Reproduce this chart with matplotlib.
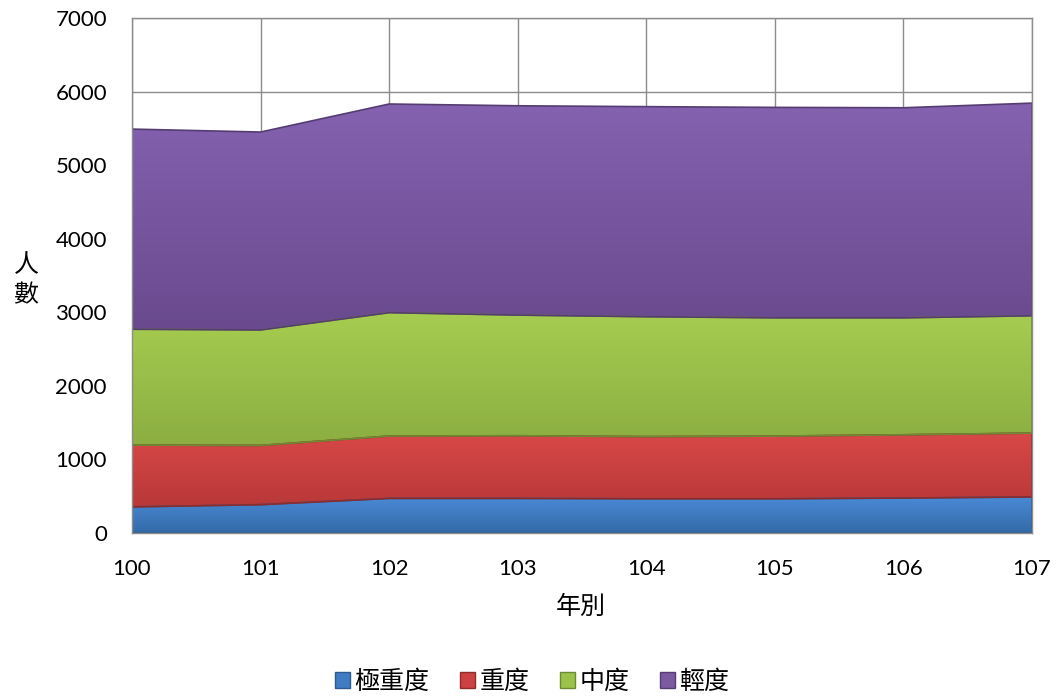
import matplotlib
matplotlib.use("Agg")
import matplotlib.pyplot as plt
import numpy as np
from matplotlib.colors import LinearSegmentedColormap

years = [100, 101, 102, 103, 104, 105, 106, 107]
series_names = ["極重度", "重度", "中度", "輕度"]
very_severe = [355, 385, 470, 470, 465, 465, 475, 490]
severe = [840, 805, 848, 852, 845, 852, 860, 868]
moderate = [1575, 1570, 1677, 1640, 1630, 1608, 1590, 1595]
mild = [2720, 2690, 2836, 2845, 2855, 2860, 2855, 2890]
top_colors = ["#4A8AD6", "#D84848", "#A6CD50", "#8462B0"]
bot_colors = ["#336AA8", "#B83838", "#8CAE42", "#6A4A8E"]
colors = ["#3F7CC4", "#CC4141", "#9CC24A", "#7B5AA0"]
edge_colors = ["#2C5A8F", "#8E2B2B", "#6E8A32", "#553D72"]

cjk = ["Noto Sans CJK TC", "DejaVu Sans"]
num_font = ["Lato", "DejaVu Sans"]

fig = plt.figure(figsize=(10.57, 6.96), dpi=100)
ax = fig.add_axes([132/1057, 1-533/696, 900/1057, 515/696])

x = np.array(years)
data = [very_severe, severe, moderate, mild]
polys = ax.stackplot(x, *data, colors=colors, labels=series_names, zorder=2)
cs = np.cumsum(np.array(data), axis=0)
cum = np.vstack([np.zeros(len(x)), cs])
grad = np.linspace(1, 0, 256).reshape(-1, 1)
for i, (p, ec) in enumerate(zip(polys, edge_colors)):
    p.set_edgecolor(ec)
    p.set_linewidth(1.2)
    lo = cum[i].min()
    hi = cum[i + 1].max()
    cmap = LinearSegmentedColormap.from_list("g%d" % i, [bot_colors[i], top_colors[i]])
    im = ax.imshow(grad, cmap=cmap, aspect="auto", extent=[x[0], x[-1], lo, hi],
                   origin="upper", zorder=2.5, vmin=0, vmax=1)
    im.set_clip_path(p.get_paths()[0], transform=ax.transData)
    p.set_facecolor("none")
    p.set_zorder(3)

ax.set_xlim(100, 107)
ax.set_ylim(0, 7000)
ax.set_xticks(years)
ax.set_yticks(range(0, 7001, 1000))
ax.grid(True, color="#8c8c8c", linewidth=1.0, zorder=0)
ax.set_axisbelow(True)
for s in ax.spines.values():
    s.set_color("#8c8c8c")
    s.set_linewidth(1.0)
    s.set_zorder(4)
ax.tick_params(length=0, labelsize=16)
ax.tick_params(axis="x", pad=19)
ax.tick_params(axis="y", pad=18)
for lab in ax.get_xticklabels() + ax.get_yticklabels():
    lab.set_family(num_font)

fig.text(581/1057, 1-607/696, "年別", fontsize=18, family=cjk, ha="center", va="center")
fig.text(26/1057, 1-280/696, "人\n數", fontsize=18, family=cjk,
         ha="center", va="center", linespacing=1.2)

handles = [plt.Rectangle((0, 0), 1, 1, facecolor=c, edgecolor=e) for c, e in zip(colors, edge_colors)]
leg = fig.legend(handles, series_names, loc="center", bbox_to_anchor=(532/1057, 1-682/696),
                 ncol=4, frameon=False, prop={"family": cjk, "size": 18},
                 handlelength=0.6, handleheight=0.6, handletextpad=0.2, columnspacing=1.2,
                 borderpad=0)

fig.savefig("out.png", dpi=100)
